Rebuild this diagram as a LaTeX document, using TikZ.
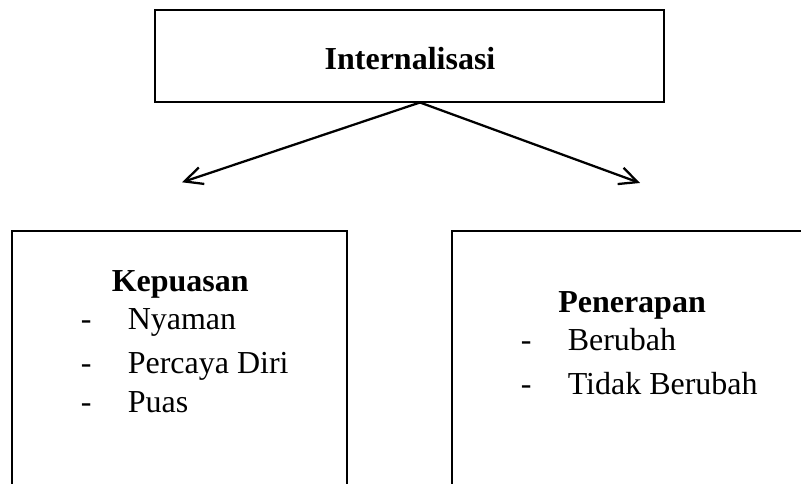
\documentclass[tikz,border=0pt]{standalone}
\usepackage{fontspec}
\setmainfont{Liberation Serif}
\usetikzlibrary{arrows.meta}
\begin{document}
\begin{tikzpicture}[x=0.75pt,y=-0.75pt,
  box/.style={draw,line width=1.8pt,inner sep=0pt,outer sep=0pt},
  lbl/.style={inner sep=0pt,anchor=base west,font=\fontsize{24}{28}\selectfont},
  hd/.style={inner sep=0pt,anchor=base west,font=\fontsize{24}{28}\selectfont\bfseries},
  arr/.style={line width=1.7pt,-{Straight Barb[length=13.5pt,width=13pt]}}]
\useasboundingbox (0,0) rectangle (801,484);
\clip (0,0) rectangle (801,484);
% boxes
\node[box,minimum width=381.75pt,minimum height=69pt] (top) at (409.5,56) {};
\node[box,minimum width=251.25pt,minimum height=216.75pt] (left) at (179.5,375.5) {};
\node[box,minimum width=298.5pt,minimum height=216.75pt] (right) at (651,375.5) {};
% texts
\node[hd,anchor=base] (t0) at (410,70) {Internalisasi};
\node[hd] (k0) at (111.5,292) {Kepuasan};
\node[lbl] (d1) at (80.5,330) {-};
\node[lbl] (k1) at (127.5,330) {Nyaman};
\node[lbl] (d2) at (80.5,374) {-};
\node[lbl] (k2) at (127.5,374) {Percaya Diri};
\node[lbl] (d3) at (80.5,413) {-};
\node[lbl] (k3) at (127.5,413) {Puas};
\node[hd] (p0) at (558,313) {Penerapan};
\node[lbl] (e1) at (520.5,350.5) {-};
\node[lbl] (p1) at (567.5,350.5) {Berubah};
\node[lbl] (e2) at (520.5,395) {-};
\node[lbl] (p2) at (567.5,395) {Tidak Berubah};
% arrows
\coordinate (apex) at (420,102.5);
\coordinate (ltip) at (182,182.3);
\coordinate (rtip) at (640,183);
\draw[arr] (apex) -- (ltip);
\draw[arr] (apex) -- (rtip);
\end{tikzpicture}
\end{document}
